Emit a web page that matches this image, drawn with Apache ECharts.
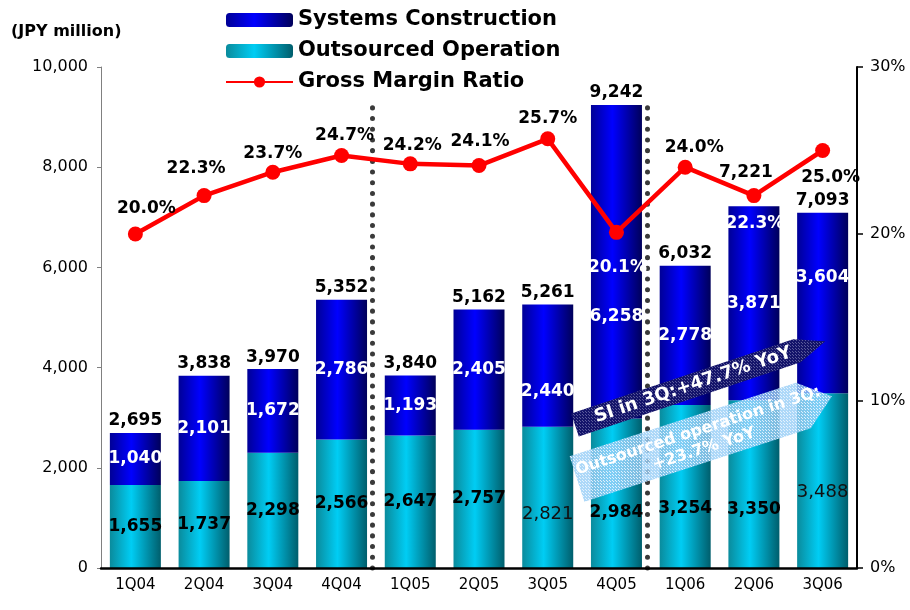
<!DOCTYPE html>
<html>
<head>
<meta charset="utf-8">
<script src="https://cdn.jsdelivr.net/npm/echarts@6/dist/echarts.min.js"></script>
<style>
html,body{margin:0;padding:0;background:#fff;}
#chart{width:910px;height:610px;}
</style>
</head>
<body>
<div id="chart"></div>
<script>
// ---- data ----
const categories = ['1Q04','2Q04','3Q04','4Q04','1Q05','2Q05','3Q05','4Q05','1Q06','2Q06','3Q06'];
const outsourcedOperation = [1655,1737,2298,2566,2647,2757,2821,2984,3254,3350,3488];
const systemsConstruction = [1040,2101,1672,2786,1193,2405,2440,6258,2778,3871,3604];
const totalSales = [2695,3838,3970,5352,3840,5162,5261,9242,6032,7221,7093];
const grossMarginRatio = [20.0,22.3,23.7,24.7,24.2,24.1,25.7,20.1,24.0,22.3,25.0];
const dividerPositions = [3.94, 7.95];     // boundaries between fiscal years (category index)
const leftAxisMax = 10000, leftAxisStep = 2000;
const rightAxisMax = 30, rightAxisStep = 10;

// ---- label layout tweaks (styles, not data) ----
const sysLabelShift = [0,0,0,0,0,0,26,55,0,0,-25];
const outLabelShift = [0,0,0,0,0,0,17,19,22,25,12];
const outLabelPlain = [false,false,false,false,false,false,true,false,false,false,true];
const gmLabelShift = [[11,-25],[-8,-27],[0,-19],[3,-20],[2,-18],[1,-24],[0,-20],[1,35],[9,-20],[1,28],[8,27]];
const gmLabelWhite = [false,false,false,false,false,false,false,true,false,true,false];
const totalLabelShift = [[0,0],[0,0],[0,0],[0,0],[0,0],[0,0],[0,0],[0,0],[0,0],[-8,-22],[0,0]];

const FONT = '"DejaVu Sans", Verdana, sans-serif';
const fmt = v => v.toLocaleString('en-US');

const chart = echarts.init(document.getElementById('chart'), null, {renderer:'canvas'});

const sysColor = new echarts.graphic.LinearGradient(0,0,1,0,[
  {offset:0,color:'#000096'},{offset:0.42,color:'#0000ff'},{offset:1,color:'#00005a'}]);
const outColor = new echarts.graphic.LinearGradient(0,0,1,0,[
  {offset:0,color:'#0a8b9c'},{offset:0.42,color:'#00cdf4'},{offset:1,color:'#005e6c'}]);

function makePattern(base, dot, size){
  const c = document.createElement('canvas');
  c.width = size; c.height = size;
  const g = c.getContext('2d');
  g.fillStyle = base; g.fillRect(0,0,size,size);
  g.fillStyle = dot; g.fillRect(0,0,1,1); g.fillRect(Math.floor(size/2),Math.floor(size/2),1,1);
  return {image:c, repeat:'repeat'};
}

function arrowPts(cx, cy, len, h, tip, deg){
  const a = deg*Math.PI/180, ca = Math.cos(a), sa = Math.sin(a);
  const local = [[0,-h/2],[len,-h/2],[len+tip,0],[len,h/2],[0,h/2]];
  return local.map(([x,y]) => [cx + x*ca + y*sa, cy - x*sa + y*ca]);
}

const darkArrow = {cx:575, cy:425, len:234, h:24, tip:30, ang:18.5};
const lightArrow = {cx:577, cy:479, len:238, h:48, tip:30, ang:18};

const option = {
  animation:false,
  backgroundColor:'#ffffff',
  textStyle:{fontFamily:FONT},
  legend:{
    orient:'vertical', left:220, top:4, padding:5,
    itemWidth:67, itemHeight:14, itemGap:9,
    data:['Systems Construction','Outsourced Operation','Gross Margin Ratio'],
    textStyle:{fontFamily:FONT, fontSize:21, fontWeight:'bold', color:'#000', lineHeight:22},
    selectedMode:false
  },
  grid:{left:101, right:53, top:67, bottom:42, containLabel:false},
  xAxis:[{
    type:'category', data:categories,
    axisLine:{lineStyle:{color:'#000', width:2.5}},
    axisTick:{show:false},
    axisLabel:{color:'#000', fontSize:15, margin:10, fontFamily:FONT},
    z:5
  },{
    type:'value', min:0, max:categories.length, show:false
  }],
  yAxis:[{
    type:'value', min:0, max:leftAxisMax, interval:leftAxisStep,
    axisLine:{show:true, lineStyle:{color:'#808080', width:1}},
    axisTick:{show:true, length:4, lineStyle:{color:'#808080'}},
    axisLabel:{color:'#000', fontSize:16, margin:13, fontFamily:FONT, formatter:v=>fmt(v)},
    splitLine:{show:false}
  },{
    type:'value', position:'right', min:0, max:rightAxisMax, interval:rightAxisStep,
    axisLine:{show:true, lineStyle:{color:'#000', width:2}},
    axisTick:{show:true, length:6, lineStyle:{color:'#000', width:1.5}},
    axisLabel:{color:'#000', fontSize:16, margin:13, fontFamily:FONT, formatter:'{value}%'},
    splitLine:{show:false}
  }],
  series:[
    {
      name:'Outsourced Operation', type:'bar', stack:'sales', barWidth:51,
      itemStyle:{color:outColor},
      data:outsourcedOperation.map((v,i)=>({
        value:v,
        label:{
          show:true, position:'inside', offset:[0,outLabelShift[i]],
          formatter:fmt(v),
          color: outLabelPlain[i] ? '#111' : '#000',
          fontWeight: outLabelPlain[i] ? 'normal' : 'bold',
          fontSize: outLabelPlain[i] ? 18 : 17, fontFamily:FONT
        }
      }))
    },
    {
      name:'Systems Construction', type:'bar', stack:'sales', barWidth:51,
      itemStyle:{color:sysColor},
      data:systemsConstruction.map((v,i)=>({
        value:v,
        label:{
          show:true, position:'inside', offset:[0,sysLabelShift[i]],
          formatter:fmt(v), color:'#fff', fontWeight:'bold', fontSize:17, fontFamily:FONT
        }
      }))
    },
    {
      name:'Total', type:'scatter', symbol:'rect', symbolSize:[51,1],
      itemStyle:{color:'rgba(0,0,0,0)', opacity:1}, silent:true, z:4,
      data:totalSales.map((v,i)=>({
        value:v,
        label:{
          show:true, position:'top', distance:3, offset:totalLabelShift[i],
          formatter:fmt(v), color:'#000', opacity:1, fontWeight:'bold', fontSize:17, fontFamily:FONT
        }
      }))
    },
    {
      name:'Gross Margin Ratio', type:'line', yAxisIndex:1,
      symbol:'circle', symbolSize:15, z:6,
      lineStyle:{color:'#ff0000', width:4.5},
      itemStyle:{color:'#ff0000'},
      data:grossMarginRatio.map((v,i)=>({
        value:v,
        label:{
          show:true, position:'inside', offset:gmLabelShift[i],
          formatter:v.toFixed(1)+'%',
          color: gmLabelWhite[i] ? '#fff' : '#000',
          fontWeight:'bold', fontSize:17, fontFamily:FONT
        }
      }))
    },
    {
      name:'Divider', type:'line', xAxisIndex:1, yAxisIndex:0,
      data:dividerPositions.map(p=>[p,0]), showSymbol:false, symbolSize:0,
      lineStyle:{opacity:0}, silent:true, z:3,
      markLine:{
        silent:true, symbol:['none','none'], label:{show:false},
        lineStyle:{color:'#3a3a3a', width:5, type:[0.1,10.6], cap:'round', opacity:1},
        data:dividerPositions.map(p=>[{coord:[p,0]},{coord:[p,9200]}])
      }
    }
  ],
  graphic:[
    {type:'text', left:11, top:24, style:{text:'(JPY million)', font:'bold 16px '+FONT, fill:'#000'}},
    {type:'polygon', z:100, shape:{points:arrowPts(darkArrow.cx,darkArrow.cy,darkArrow.len,darkArrow.h,darkArrow.tip,darkArrow.ang)},
      style:{fill:makePattern('#14146a','#5a5a9a',3)}},
    {type:'text', z:101, x:693, y:385, rotation:darkArrow.ang*Math.PI/180,
      style:{text:'SI in 3Q:+47.7% YoY', font:'bold 18px '+FONT, fill:'#fff', align:'center', verticalAlign:'middle'}},
    {type:'polygon', z:100, shape:{points:arrowPts(lightArrow.cx,lightArrow.cy,lightArrow.len,lightArrow.h,lightArrow.tip,lightArrow.ang)},
      style:{fill:makePattern('rgba(155,208,246,0.82)','rgba(235,245,255,0.9)',3)}},
    {type:'text', z:101, x:701, y:440, rotation:lightArrow.ang*Math.PI/180,
      style:{text:'Outsourced operation in 3Q:\n+23.7% YoY', font:'bold 16px '+FONT, fill:'#fff', align:'center', verticalAlign:'middle', lineHeight:19}}
  ]
};
chart.setOption(option);
</script>
</body>
</html>
